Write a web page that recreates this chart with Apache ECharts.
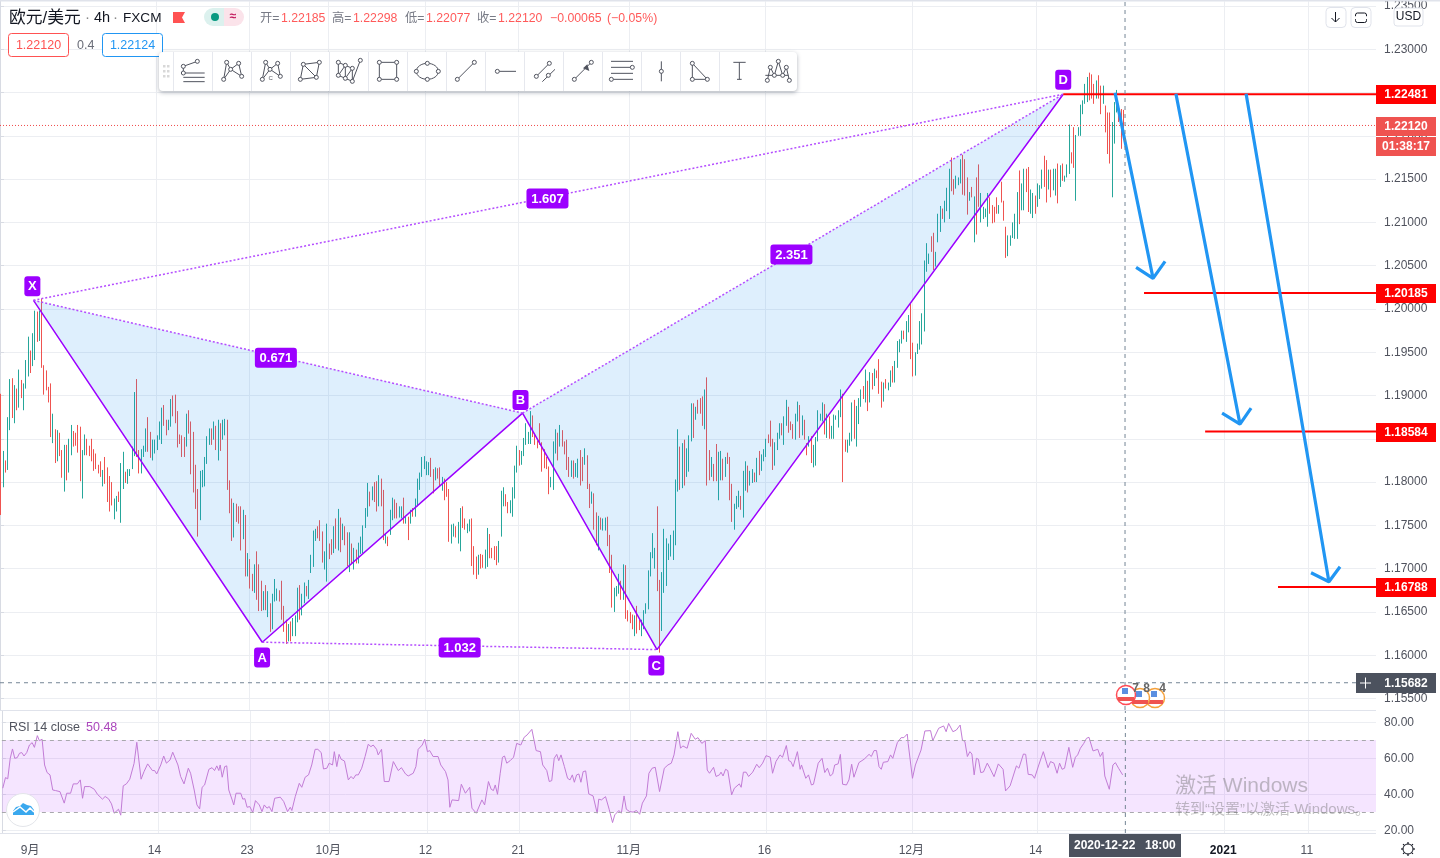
<!DOCTYPE html>
<html><head><meta charset="utf-8"><style>html,body{margin:0;padding:0;background:#fff;overflow:hidden}#c{width:1440px;height:858px}</style>
<script src="https://cdn.jsdelivr.net/npm/echarts@6/dist/echarts.min.js"></script></head><body><div id="c"></div>
<script>
// bar highs / lows in 1e-4 price units
const highs=[11902,11836,11825,11875,11919,11920,11912,11908,11930,11918,11914,11941,11968,11952,11972,11998,11997,11998,12012,11935,
11929,11910,11914,11879,11861,11860,11857,11837,11843,11843,11850,11866,11859,11857,11866,11864,11837,11855,11850,11842,
11850,11838,11833,11820,11824,11814,11829,11817,11807,11800,11781,11784,11789,11822,11835,11812,11815,11815,11841,11904,
11919,11837,11838,11842,11862,11875,11858,11849,11849,11854,11870,11886,11889,11872,11872,11896,11900,11901,11882,11855,
11854,11852,11879,11883,11870,11858,11820,11792,11813,11814,11829,11853,11862,11862,11870,11865,11872,11868,11872,11873,
11872,11802,11781,11776,11775,11772,11772,11768,11762,11718,11711,11694,11705,11720,11705,11686,11674,11681,11674,11660,
11671,11688,11677,11675,11686,11657,11641,11636,11639,11643,11646,11678,11681,11671,11684,11680,11687,11716,11744,11746,
11749,11756,11743,11720,11752,11729,11734,11749,11758,11769,11759,11752,11749,11742,11742,11729,11724,11722,11730,11737,
11750,11770,11799,11789,11795,11800,11801,11808,11804,11791,11741,11737,11768,11782,11780,11776,11772,11772,11782,11760,
11760,11768,11770,11781,11804,11811,11829,11830,11824,11823,11828,11815,11817,11816,11817,11806,11804,11800,11792,11751,
11752,11749,11754,11770,11772,11758,11752,11757,11758,11726,11714,11716,11717,11716,11722,11747,11740,11724,11726,11726,
11732,11790,11794,11786,11777,11779,11794,11819,11842,11837,11836,11851,11868,11858,11882,11877,11856,11848,11868,11846,
11838,11829,11818,11806,11847,11861,11857,11866,11860,11847,11849,11829,11825,11825,11822,11827,11837,11829,11839,11831,
11798,11789,11787,11765,11761,11759,11758,11759,11760,11739,11716,11678,11680,11694,11686,11705,11704,11652,11650,11647,
11646,11657,11641,11641,11652,11660,11698,11719,11741,11724,11772,11687,11696,11746,11735,11729,11739,11744,11803,11861,
11841,11845,11849,11839,11854,11891,11891,11887,11895,11897,11899,11907,11921,11837,11829,11821,11844,11835,11836,11827,
11829,11834,11829,11798,11775,11784,11790,11784,11813,11824,11819,11813,11815,11811,11828,11836,11832,11838,11850,11855,
11871,11850,11846,11857,11868,11868,11876,11895,11887,11870,11867,11879,11893,11889,11877,11872,11845,11853,11853,11843,
11852,11883,11879,11892,11890,11879,11876,11865,11878,11877,11883,11907,11902,11849,11849,11857,11892,11895,11888,11897,
11907,11911,11930,11917,11927,11926,11931,11929,11942,11916,11915,11919,11915,11929,11934,11940,11963,11965,11975,11975,
11986,11993,12006,11961,11950,11960,11986,11995,12056,12076,12064,12084,12088,12066,12110,12119,12116,12125,12140,12162,
12175,12150,12154,12152,12173,12178,12173,12152,12135,12141,12130,12152,12167,12134,12118,12116,12134,12129,12120,12118,
12129,12120,12147,12125,12095,12085,12085,12100,12110,12135,12160,12145,12162,12162,12164,12138,12134,12131,12145,12143,
12161,12177,12172,12161,12161,12162,12162,12168,12166,12168,12154,12167,12213,12181,12210,12201,12210,12236,12241,12260,
12268,12273,12271,12260,12264,12270,12258,12258,12235,12227,12227,12216,12239,12253,12236,12231,12230];
const lows=[11762,11794,11811,11814,11860,11874,11868,11883,11886,11897,11883,11908,11922,11926,11934,11941,11962,11963,11932,11901,
11906,11892,11852,11845,11822,11824,11830,11805,11789,11802,11811,11831,11841,11842,11834,11801,11781,11831,11831,11830,
11824,11813,11815,11810,11806,11795,11798,11777,11766,11773,11757,11766,11777,11753,11792,11799,11798,11807,11815,11830,
11829,11810,11810,11829,11835,11835,11828,11825,11833,11837,11849,11844,11865,11854,11860,11864,11876,11868,11840,11844,
11829,11829,11841,11856,11809,11788,11769,11737,11756,11794,11795,11821,11843,11843,11849,11837,11825,11836,11849,11854,
11791,11764,11732,11736,11754,11752,11721,11734,11691,11691,11677,11674,11672,11664,11651,11651,11652,11652,11644,11627,
11630,11662,11663,11662,11641,11627,11613,11616,11616,11622,11622,11638,11641,11646,11660,11668,11665,11695,11702,11732,
11735,11732,11707,11699,11685,11711,11716,11718,11723,11721,11719,11733,11727,11703,11696,11706,11699,11706,11706,11717,
11718,11747,11760,11772,11779,11777,11766,11772,11772,11733,11729,11726,11739,11756,11758,11758,11759,11758,11752,11752,
11733,11752,11760,11760,11772,11791,11806,11815,11808,11808,11806,11787,11802,11804,11795,11790,11779,11783,11731,11729,
11737,11736,11729,11720,11747,11745,11741,11743,11703,11693,11688,11693,11700,11701,11700,11702,11712,11712,11710,11704,
11707,11737,11772,11772,11764,11764,11760,11781,11811,11819,11820,11830,11843,11844,11844,11852,11843,11839,11843,11812,
11816,11815,11786,11794,11791,11833,11825,11841,11841,11832,11814,11806,11806,11804,11806,11805,11796,11801,11820,11792,
11770,11775,11745,11727,11721,11745,11744,11744,11726,11695,11655,11650,11668,11671,11664,11664,11642,11639,11637,11630,
11622,11625,11629,11622,11630,11648,11653,11691,11712,11700,11674,11603,11628,11672,11680,11710,11714,11710,11727,11789,
11791,11793,11796,11806,11812,11847,11851,11872,11879,11879,11865,11861,11796,11802,11806,11801,11801,11779,11802,11802,
11806,11821,11779,11754,11745,11769,11771,11768,11759,11790,11788,11796,11799,11800,11800,11808,11813,11824,11829,11845,
11841,11814,11819,11837,11850,11854,11843,11865,11857,11860,11850,11849,11870,11851,11854,11849,11831,11841,11822,11817,
11819,11847,11871,11870,11855,11851,11850,11850,11850,11872,11863,11875,11800,11835,11834,11842,11847,11850,11841,11867,
11887,11896,11892,11882,11892,11907,11911,11920,11902,11886,11893,11908,11906,11910,11915,11915,11932,11950,11960,11965,
11962,11973,11942,11922,11923,11948,11953,11959,11974,12043,12052,12066,12045,12049,12077,12089,12104,12100,12113,12104,
12136,12132,12139,12143,12145,12132,12131,12109,12125,12129,12077,12086,12118,12100,12104,12106,12095,12110,12099,12100,
12110,12110,12123,12102,12059,12061,12073,12082,12081,12081,12098,12114,12114,12135,12112,12110,12105,12110,12118,12127,
12139,12141,12123,12138,12129,12137,12131,12122,12141,12148,12147,12152,12156,12168,12163,12125,12200,12200,12225,12237,
12239,12241,12243,12237,12243,12243,12225,12237,12204,12179,12168,12129,12191,12227,12216,12185,12208];
// per-bar direction (u = closes up, d = closes down)
const barDirList=[
"d u d u u d u d u d u u u d u u d u d d",
"d d d u d u d d u d u u d d d d u u d d",
"d d d d d u d d d d u u d u u d u u u u",
"d d u u u d d u u u u u d d u u d d d d",
"d d u d d d d d u u u u u d u d u d u u",
"d d d u d d d u d u d d u d d d u d u d",
"u u u d d d d u d u u u d u u d u u u u",
"d d d u u d d u d u d u d d u d u d u u",
"u u u d u d d u d d u d u u d d u u d u",
"d u d u u u u u u u d d u d d u d d d u",
"u d u u d d u u d d d u d d u u d d d d",
"u u u d d u u u u d u u u u u d d d d d",
"d d d u u u d u d d d d u d u u d d u d",
"d u d d u d u u d d d u u u d u d d d d",
"u d d u u u u u u u d d u u u u u u u u",
"d u d u u u d u d d d u d d u d d u u d",
"u d d d u u u d u u d u u d u d u u u d",
"d d u u u d u u d d d u u d u d d u d u",
"u u u u d u d u u u u u d d u u u d u u",
"u d u d u d u d d d u d u u d u u u u d",
"u u d d u u u u u u u d d u u u d u u u",
"d d u u u d d d u d u d d u u u u d d d",
"d u d d d u u u u u d u u d d u u d u u",
"u d d u d u u d u d u u u d d u u u u u",
"u d d d u d d u d d d u u u d d d"].join(' ').split(' ');
const CAT_COUNT=608;
const tickBars=[14,69,110,145,188,229,278,338,403,458,541,578];
const tickLabels=['9月','14','23','10月','12','21','11月','16','12月','14','2021','11'];
const priceTicks=[1.155,1.16,1.165,1.17,1.175,1.18,1.185,1.19,1.195,1.2,1.205,1.21,1.215,1.22,1.225,1.23,1.235];
const rsiTicks=[20,40,60,80];
// harmonic pattern points: [bar position, price]
const ptX=[14.8,1.2010],ptA=[115.9,1.1615],ptB=[230.9,1.18797],ptC=[290.3,1.16065],ptD=[469.8,1.22481];
const patternLabels=[['X',14.3,1.20261],['A',115.8,1.15973],['B',230.0,1.18947],['C',290.0,1.1588],['D',469.8,1.22648]];
const ratioLabels=[['0.671',121.9,1.19435],['1.032',203.1,1.16088],['1.607',241.9,1.21276],['2.351',349.7,1.2063]];
const targetLines=[[469.8,1.22481],[505.5,1.20185],[532.5,1.18584],[564.7,1.16788]];
const arrows=[
 [[492.7,1.22498],[509.5,1.20354],[502.0,1.20481],[509.5,1.20354],[514.8,1.2055]],
 [[519.6,1.22487],[547.9,1.1867],[540.0,1.18797],[547.9,1.1867],[552.8,1.18855]],
 [[550.6,1.22487],[587.2,1.16849],[579.3,1.16953],[587.2,1.16849],[592.1,1.17022]]];
const lastPrice=1.2212,crossPrice=1.15682,crossBar=497.1;
const rsiPoints=[[0.4,43.2],[1.6,49.1],[2.6,48.4],[3.7,59.8],[4.7,65],[5.7,59.8],[6.8,60.2],[7.8,62.6],[8.8,63],[9.8,61.1],[11,63],[12.2,67.2],[13.4,68.5],[14.4,65.9],[15.7,72.4],[16.6,69.6],[17.8,70.4],[18.9,56.1],[20,51.9],[21.3,50.6],[22.5,42.2],[23.7,41.9],[25.7,41.3],[27.6,34.9],[28.7,40.4],[30.4,40.4],[31.6,45.6],[33.4,45.6],[34.7,47.8],[35.7,37.6],[36.6,44.1],[38.9,44.1],[40.9,42.6],[42.3,39.8],[44.5,37.1],[45.7,38.6],[47.2,37.3],[48.5,34.5],[49.7,29.3],[51.6,31.5],[52.6,28.2],[53.7,44.5],[55.1,45.6],[56.6,48.2],[58.5,57],[59.7,68.7],[61.6,48.2],[62.9,52.4],[64.5,56.7],[66.6,53],[67.6,53],[68.5,51.1],[70.3,56.1],[71.6,61.1],[72.8,57.1],[74.4,58.9],[75.6,63.2],[77.9,56.1],[79.1,49.7],[80.6,45.6],[82.5,54.3],[83.5,51.5],[85.1,42.2],[86.3,33.9],[87.5,31.7],[88.6,43.7],[89.7,45],[91.6,53.7],[93,54.6],[94.1,53],[95.1,55.6],[96,53],[96.6,56.1],[97.5,49.3],[98.6,55.2],[99.5,55.6],[100.4,42.2],[101.9,36.7],[102.6,33.9],[103.6,40.4],[105.7,40.4],[106.6,37.1],[107.5,37.4],[108.5,32.6],[109.7,33],[111,29.7],[112.2,36.3],[113.9,33.9],[115.1,30.2],[116.1,33.9],[117.3,32.1],[118.3,33],[119.5,30.2],[120.7,37.6],[123.2,38.2],[124.7,35.8],[126.4,30.2],[127.6,32.6],[128.3,30.8],[129.8,38.5],[130.5,39.5],[131.6,45.9],[132.7,43.7],[134.2,49.3],[135.7,50.6],[137.1,56.1],[138.6,64.8],[139.8,64.8],[141.3,63],[142.3,53.9],[143.8,54.3],[144.8,57.1],[146.3,56.1],[147.1,63.5],[148.2,55.2],[149.2,62],[150.1,59.3],[151.6,58.3],[153.3,47.8],[154.5,49.7],[155.5,48.4],[156.6,50.6],[157.7,50.6],[159.2,54.3],[160.7,60.8],[162.1,67.6],[163.3,66.3],[164.3,67.2],[165.8,64.8],[166.5,61.7],[168,64.8],[169.2,46.9],[171.3,46.9],[173.2,58],[175.4,53],[176.8,54.6],[178.6,51.1],[179.8,50],[182,51.5],[183.2,55.2],[184.2,64.8],[186,67.2],[187.1,70.4],[188.3,63.5],[189.3,64.1],[190.8,60.8],[193,60.8],[194.2,56.1],[196.3,52.4],[197.4,47.8],[198.2,32.6],[199.2,36.7],[202.1,36.3],[203.3,45.4],[205.1,40.4],[207,43.7],[208,32.1],[209.9,29.3],
[212.4,36.7],[213.6,33.9],[214.3,34.9],[215.3,46.9],[216.5,42.6],[217.5,41.9],[218.3,45],[219.3,39.8],[220.5,51.5],[221.5,60.4],[222.4,61.1],[223.4,57.1],[224.9,58.5],[226.4,60.4],[227.8,68.1],[228.6,69.1],[229.6,67.2],[231.1,71.5],[232.4,72.8],[234.5,75.9],[236.4,64.1],[238.3,63.5],[239.3,56.1],[241.1,53],[242.2,46.9],[243.3,47.4],[244.4,59.8],[245.5,62],[246.4,58.5],[247.4,61.7],[248.9,55.2],[250.3,48.7],[251.4,47.8],[252.4,50.6],[253.3,46.5],[254.3,50.6],[255.3,51.1],[256.2,46.5],[257.2,52.4],[258.3,52.8],[259.7,40],[261.6,38.9],[263.4,29.3],[264.1,37.1],[265.3,36.7],[267.1,38.5],[268.7,31.5],[270.2,24.1],[271.2,28.4],[273,30.8],[274.1,29.3],[275.3,38.9],[276.3,31.5],[277.8,30.2],[279.3,29.9],[280.8,30.8],[282.2,28.7],[283.4,34.9],[285.2,38.9],[286.3,51.5],[287.7,54.3],[289.1,54.8],[291,41.3],[293.1,54.3],[294.7,56.1],[296.2,57.1],[297.4,61.7],[299.1,74.6],[300.3,65.4],[301.3,66.7],[303.2,65.4],[305,73.7],[306.8,70.4],[308,71.3],[309.7,68.1],[311.2,69.6],[312.1,53.3],[313.1,51.5],[314.9,54.8],[316,49.7],[317.5,50.6],[318.2,52.1],[319.1,50],[320.2,53.7],[321.2,53],[322.9,39.5],[324.1,43.2],[326.3,45.6],[327.1,43.7],[328.1,52.1],[329.3,52.1],[330.4,49.7],[332.2,52.1],[332.9,51.9],[334,56.5],[335.1,54.6],[336.6,57.1],[338.1,61.3],[340,60.4],[341,51.5],[342.5,58],[344.3,61.7],[345.4,60.4],[347.1,66.9],[348.2,58.5],[349.1,58],[350.1,55.2],[352,63.5],[353.2,53.7],[353.8,56.1],[355.7,48.7],[356.9,50.6],[358.2,45],[359.1,45.4],[361.2,57.1],[362.9,59.8],[364.1,51.9],[365.3,54.3],[366.5,50],[367.6,51.1],[368.5,56.1],[370,56.7],[371,62],[372,45.4],[373.7,45],[374.8,47.8],[376,56.5],[377,49.3],[379.2,57.4],[381.5,59.3],[383.7,62],[384.7,60.8],[385.9,64.1],[387,64.1],[388.1,55.2],[389.1,53.7],[390,57.6],[392,58],[393.2,61.7],[394.2,59.8],[396.2,68.5],[397.9,71.3],[399.1,71.3],[400.6,73.3],[401,68.1],[402.9,48.7],[404.2,56.1],[406.7,64.4],[408.4,75],[410.9,75.2],[411.9,69.6],[414.5,76.5],[416.7,77.8],[417.8,74.6],[418.9,79.2],[420.8,74.6],[422.3,75.5],[424,78.3],
[425,70],[426.1,69.1],[427.2,60.8],[428.3,63.5],[429.2,62.2],[430.2,50.6],[431.2,59.8],[432.1,59.3],[433.1,51.9],[434.3,52.2],[436,57.1],[437.2,54.3],[438,53.7],[439,49.6],[440.9,56.7],[443,53.7],[444.1,41.7],[446.1,44.5],[448.9,55.6],[450,54.3],[452,62.2],[453,62],[454.1,50.9],[455.9,50.6],[456.9,48.7],[458.8,56.1],[460.8,63.5],[462.9,54.6],[464,58],[465.5,57.1],[465.9,57.4],[466.9,51.5],[468,57.1],[469.1,53.7],[470.2,54.3],[472.1,65.9],[473.8,54.8],[475,60.4],[476,61.7],[477.2,65.4],[478.7,68.1],[479.9,70.9],[481,71.5],[482.8,63.9],[484.9,64.8],[486,60.8],[487.1,63.2],[488,50],[490,42.6],[491.6,56.1],[492.7,57.4],[494.1,54.3],[495.9,50.6]];

const FONT='"Liberation Sans","Noto Sans CJK SC",sans-serif';
const categories=Array.from({length:CAT_COUNT},()=>'');
tickBars.forEach((b,i)=>{categories[b]=tickLabels[i]});
const candles=highs.map((h,i)=>{const H=h/10000,L=lows[i]/10000;return barDirList[i]==='u'?[L,H,L,H]:[H,L,L,H]});
const Y0MIN=1.15367,Y0MAX=1.23553,Y1MIN=18.3,Y1MAX=86.1,GRID='#eceef2',UP='#26a69a',DOWN='#ef5350',PUR='#9c00ff';
const lineS=(data,color,width,type,g,z,extra)=>Object.assign({type:'line',data,xAxisIndex:g?3:2,yAxisIndex:g?1:0,showSymbol:false,symbol:'none',silent:true,z,animation:false,
 lineStyle:{color,width,type}},extra||{});
const polys=[[ptX,ptA,ptB],[ptB,ptC,ptD]];
const textBox=(api,lab,w,h,font)=>{const p=api.coord([lab[1],lab[2]]);return {type:'group',children:[
 {type:'rect',shape:{x:p[0]-w/2,y:p[1]-h/2,width:w,height:h,r:3},style:{fill:PUR}},
 {type:'text',style:{x:p[0],y:p[1]+.5,text:lab[0],fill:'#fff',font,align:'center',verticalAlign:'middle'}}]}};
const customBase={type:'custom',xAxisIndex:2,yAxisIndex:0,silent:true,animation:false,encode:{x:0,y:1}};
const tag=(api,price,color,text,dy,h)=>{const p=api.coord([0,price]);const top=Math.round(p[1]+.2)-Math.floor(h/2)+(dy||0);return {type:'group',children:[
 {type:'rect',shape:{x:1376,y:top,width:60,height:h},style:{fill:color}},
 {type:'text',style:{x:1406,y:top+h/2+.5,text,fill:'#fff',font:'bold 12px '+FONT,align:'center',verticalAlign:'middle'}}]}};
const series=[
 {type:'candlestick',data:candles,xAxisIndex:0,yAxisIndex:0,barWidth:0.01,silent:true,animation:false,z:2,
  itemStyle:{color:UP,color0:DOWN,borderColor:UP,borderColor0:DOWN,borderWidth:1}},
 Object.assign({},customBase,{z:3,data:polys.map((_,i)=>[i,0]),renderItem:(p,api)=>({type:'polygon',shape:{points:polys[p.dataIndex].map(q=>api.coord(q))},style:{fill:'rgba(33,150,243,0.15)'}})}),
 lineS([ptX,ptA,ptB,ptC,ptD],PUR,1.5,'solid',0,4),
 lineS([ptX,ptB],'#b44dff',1.5,[2,2],0,4),lineS([ptA,ptC],'#b44dff',1.5,[2,2],0,4),
 lineS([ptB,ptD],'#b44dff',1.5,[2,2],0,4),lineS([ptX,ptD],'#b44dff',1.5,[2,2],0,4),
 lineS([[0,lastPrice],[CAT_COUNT,lastPrice]],'#f04a4a',1,[1,2],0,3),
 ...targetLines.map(t=>lineS([t,[CAT_COUNT,t[1]]],'#ff0000',2,'solid',0,5)),
 ...arrows.map(a=>lineS(a,'#2196f3',3.2,'solid',0,6)),
 lineS([[crossBar,Y0MIN],[crossBar,Y0MAX]],'#758696',1,[4,4],0,7),
 lineS([[0,crossPrice],[CAT_COUNT,crossPrice]],'#758696',1,[4,4],0,7),
 lineS([[crossBar,Y1MIN],[crossBar,Y1MAX]],'#758696',1,[4,4],1,7),
 Object.assign(lineS(rsiPoints,'#c27cd6',1,'solid',1,4),{
  markArea:{silent:true,itemStyle:{color:'rgba(155,0,255,0.1)'},data:[[{yAxis:70},{yAxis:30}]]},
  markLine:{silent:true,symbol:'none',label:{show:false},lineStyle:{color:'#a8a8ac',type:[4,4],width:1},data:[{yAxis:70},{yAxis:30}]}}),
 {type:'custom',xAxisIndex:3,yAxisIndex:1,silent:true,animation:false,z:8,encode:{x:0,y:1},data:rsiTicks.map(v=>[CAT_COUNT,v]),
  renderItem:(p,api)=>{const v=rsiTicks[p.dataIndex],q=api.coord([CAT_COUNT,v]);return {type:'text',style:{x:q[0]+8,y:q[1]+.5,text:v.toFixed(2),fill:'#50535e',font:'12px '+FONT,align:'left',verticalAlign:'middle'}}}},
 Object.assign({},customBase,{z:8,data:patternLabels.map((l,i)=>[i,0]),renderItem:(p,api)=>textBox(api,patternLabels[p.dataIndex],16,20,'bold 13px '+FONT)}),
 Object.assign({},customBase,{z:8,data:ratioLabels.map((l,i)=>[i,0]),renderItem:(p,api)=>textBox(api,ratioLabels[p.dataIndex],42,20,'bold 13px '+FONT)}),
 Object.assign({},customBase,{z:9,data:targetLines.map((t,i)=>[i,0]),renderItem:(p,api)=>{const v=targetLines[p.dataIndex][1];return tag(api,v,'#ff0000',v.toFixed(5),0,19)}}),
 Object.assign({},customBase,{z:9,data:[[0,0]],renderItem:(p,api)=>tag(api,lastPrice,'#ef5350',lastPrice.toFixed(5),0,19)}),
 Object.assign({},customBase,{z:9,data:[[0,0]],renderItem:(p,api)=>tag(api,lastPrice,'#ef5350','01:38:17',20,19)}),
 Object.assign({},customBase,{z:9,data:[[0,0]],renderItem:(p,api)=>tag(api,crossPrice,'#4c525e',crossPrice.toFixed(5),0,20)})
];
// ---- page furniture (header, toolbar, icons)
const G=[];const Z=100;
const txt=(x,y,text,fill,size,extra)=>G.push({type:'text',z:Z,silent:true,style:Object.assign({x,y,text,fill,font:size+'px '+FONT,verticalAlign:'middle'},extra||{})});
const rct=(x,y,w,h,style,r)=>G.push({type:'rect',z:Z,silent:true,shape:{x,y,width:w,height:h,r:r||0},style});
const ln=(a,b,c,d,stroke,lw,z)=>G.push({type:'line',z:z||Z,silent:true,shape:{x1:a,y1:b,x2:c,y2:d},style:{stroke,lineWidth:lw||1}});
const cir=(x,y,r,style,z)=>G.push({type:'circle',z:z||Z,silent:true,shape:{cx:x,cy:y,r},style});
const GR='#787b86',RD='#ff5a5a',INK='#50535e';
rct(0,0,1440,1.5,{fill:'#e0e3eb'});
ln(0,710.5,1376,710.5,'#e0e3eb',1,1);ln(0,833.5,1376,833.5,'#e0e3eb',1,1);
txt(9,18,'欧元/美元','#131722',16.8);txt(85,18,'·','#888',15);txt(94,18,'4h','#131722',14.5);txt(113,18,'·','#888',15);txt(123,18,'FXCM','#131722',13.6);
G.push({type:'polygon',z:Z,silent:true,shape:{points:[[173,12],[185,12],[182,17.5],[185,23],[173,23]]},style:{fill:'#ff5252'}});
rct(204,8,20,18,{fill:'#dcf1ee'},[9,0,0,9]);rct(224,8,20,18,{fill:'#fbe3ea'},[0,9,9,0]);
cir(215,17,4,{fill:'#089981'});txt(233,17,'≈','#c2185b',14,{align:'center',fontWeight:'bold'});
[[260,'开=',GR],[281,'1.22185',RD],[332,'高=',GR],[353,'1.22298',RD],[405,'低=',GR],[426,'1.22077',RD],[477,'收=',GR],[498,'1.22120',RD],[550,'−0.00065',RD],[607,'(−0.05%)',RD]].forEach(t=>txt(t[0],18.5,t[1],t[2],12.3));
rct(8.5,33.5,60,23,{fill:'#fff',stroke:'#ff5252',lineWidth:1},3);txt(38.5,45.5,'1.22120','#ff5252',12.5,{align:'center'});
txt(77,45.5,'0.4','#6a6d78',12.5);
rct(102.5,33.5,60,23,{fill:'#fff',stroke:'#2196f3',lineWidth:1},3);txt(132.5,45.5,'1.22124','#2196f3',12.5,{align:'center'});
// toolbar
rct(159,52,638,39,{fill:'#fff',shadowBlur:4,shadowColor:'rgba(30,40,60,0.35)',shadowOffsetY:1.5},4);
for(let i=0;i<15;i++)ln(173.5+39*i,52,173.5+39*i,91,'#e6e8ee',1);
[164,168].forEach(x=>[66,71,76].forEach(y=>rct(x-1,y-1,2.5,2.5,{fill:'#d8d8d8'})));
const toolLines=[[550,199,592,184],[550,199,550,219],[550,219,614,219],[550,232,614,232],[550,245,614,245],
[671,238,680,187,692,208,716,190,725,229,692,208,671,238],[787,238,797,187,810,208,833,190,841,229,810,208,787,238],
[910,193,958,187,949,232,901,238,910,193,949,232],
[1015,187,1015,226,1036,196,1036,235,1057,205,1057,244,1081,181],[1015,187,1057,205],[1015,226,1057,244],
[1138,187,1190,187,1190,238,1138,238,1138,187],[1372,238,1423,187],[1492,214,1548,214],[1609,229,1648,190],[1627,245,1665,208],
[1723,238,1774,187],[1833,184,1899,184],[1833,202,1897,202],[1833,220,1899,220],[1834,238,1899,238],[1984,184,1984,244],
[2077,190,2077,238,2122,238,2077,190],[2200,187,2237,187],[2218,187,2218,238],[2211,238,2225,238],
[2302,241,2311,202,2323,226,2335,184,2348,226,2359,202,2368,241],[2296,226,2365,226]];
const toolDots=[550,199,592,184,550,219,680,187,716,190,692,208,671,238,725,229,797,187,833,190,810,208,787,238,841,229,910,193,958,187,901,238,949,232,
1015,187,1036,196,1057,205,1081,181,1015,226,1036,235,1057,244,1138,187,1190,187,1138,238,1190,238,1282,190,1249,214,1315,214,1282,238,1372,238,1423,187,1492,214,
1609,229,1648,190,1645,226,1723,238,1774,187,1897,202,1834,238,1984,214,2077,190,2077,238,2122,238,2302,241,2311,202,2323,226,2335,184,2348,226,2359,202,2368,241];
toolLines.forEach(l=>{const pts=[];for(let i=0;i<l.length;i+=2)pts.push([l[i]/3,l[i+1]/3]);
 G.push({type:'polyline',z:Z,silent:true,shape:{points:pts},style:{stroke:INK,lineWidth:1,fill:'none'}})});
G.push({type:'ellipse',z:Z,silent:true,shape:{cx:1282/3,cy:214/3,rx:11,ry:8},style:{stroke:INK,lineWidth:1,fill:'none'}});
G.push({type:'polygon',z:Z,silent:true,shape:{points:[[1762/3,193/3],[1768/3,213/3],[1749/3,205/3]]},style:{fill:INK}});
for(let i=0;i<toolDots.length;i+=2)cir(toolDots[i]/3,toolDots[i+1]/3,2,{fill:'#fff',stroke:INK,lineWidth:1});
txt(812/3,234/3+.5,'C',INK,6,{align:'center'});
// top-right buttons
rct(1326,7.5,20,20,{fill:'#fff',stroke:'#e0e3eb',lineWidth:1},4);rct(1351,7.5,20,20,{fill:'#fff',stroke:'#e0e3eb',lineWidth:1},4);
ln(1335.5,12,1335.5,22,'#131722');ln(1335.5,22,1331.5,18,'#131722');ln(1335.5,22,1339.5,18,'#131722');
rct(1355.5,13,11,9.5,{fill:'none',stroke:'#131722',lineWidth:1},2);ln(1354,17.7,1368,17.7,'#fff',3);
rct(1394,8,29,18,{fill:'#fff',stroke:'#e0e3eb',lineWidth:1},3);txt(1408.5,17,'USD','#131722',12,{align:'center'});
// crosshair furniture
rct(1356,673,20,20,{fill:'#4c525e'});ln(1360,683,1371,683,'#fff');ln(1365.5,677.5,1365.5,688.5,'#fff');
rct(1069,834,112,23,{fill:'#4c525e'});txt(1074,845.5,'2020-12-22','#fff',12,{fontWeight:'bold'});txt(1145,845.5,'18:00','#fff',12,{fontWeight:'bold'});
// RSI legend
txt(9,727.5,'RSI 14 close','#50535e',12.5);txt(86,727.5,'50.48','#ab47bc',12.5);
// logo
cir(23,810,16.5,{fill:'#fff',stroke:'#e3e5ea',lineWidth:1},90);
G.push({type:'polygon',z:Z,silent:true,shape:{points:[[13,815],[13,811],[16,807],[20,806],[23,803],[27,805],[31,806],[34,810],[34,815]]},style:{fill:'#3aa8ee'}});
G.push({type:'polyline',z:Z,silent:true,shape:{points:[[13,812],[20,807],[26,812],[30,808],[34,812]]},style:{stroke:'#fff',lineWidth:1.5,fill:'none'}});
// event flags
[[1155,698,'#f5a13c'],[1140,698,'#f5a13c'],[1126,695,'#ff4b55']].forEach(e=>{cir(e[0],e[1],9.5,{fill:'#fff',stroke:e[2],lineWidth:1.5});
 rct(e[0]-8,e[1]+2,16,4,{fill:'#ef5350'});rct(e[0]-4,e[1]-7,6,6,{fill:'#5b8fe0'})});
[[1135.5,'7'],[1146.5,'8'],[1162.5,'4']].forEach(n=>txt(n[0],688.5,n[1],'#666',10.5,{align:'center',fontWeight:'bold'}));
// gear
for(let a=0;a<8;a++){const c=Math.cos(a*Math.PI/4),s=Math.sin(a*Math.PI/4);ln(1408+c*4,849+s*4,1408+c*7,849+s*7,'#131722',1.2)}
cir(1408,849,5,{fill:'#fff',stroke:'#131722',lineWidth:1});
// windows watermark
txt(1175,786,'激活 Windows','rgba(110,110,110,0.42)',21);
txt(1175,810,'转到“设置”以激活 Windows。','rgba(110,110,110,0.42)',15);

const chart=echarts.init(document.getElementById('c'),null,{renderer:'canvas'});
const vSplit={show:true,showMinLine:false,showMaxLine:false,interval:(i,v)=>v!=='',lineStyle:{color:GRID,width:1}};
const earlyTicks=tickBars.slice(0,3);
chart.setOption({animation:false,backgroundColor:'#fff',textStyle:{fontFamily:FONT},
 grid:[{left:-1,top:0,width:1377,height:710},{left:-1,top:711,width:1377,height:122}],
 xAxis:[
  {type:'category',gridIndex:0,data:categories,boundaryGap:true,axisLine:{show:false},axisTick:{show:false},axisLabel:{show:false},splitLine:vSplit},
  {type:'category',gridIndex:1,data:categories,boundaryGap:true,axisLine:{show:false},axisTick:{show:false},
   axisLabel:{interval:0,fontSize:12,color:'#50535e',margin:12,padding:[0,5,0,0],fontFamily:FONT,hideOverlap:false,
    formatter:(v,i)=>v===''?'':v==='2021'?'{b|2021}':earlyTicks.includes(i)?'{e|'+v+'}':v,
    rich:{b:{fontWeight:'bold',color:'#131722',fontSize:12,fontFamily:FONT},e:{color:'#50535e',fontSize:12,fontFamily:FONT,padding:[0,4,0,0]}}},splitLine:vSplit},
  {type:'value',gridIndex:0,min:0,max:CAT_COUNT,show:false},
  {type:'value',gridIndex:1,min:0,max:CAT_COUNT,show:false}],
 yAxis:[
  {type:'value',gridIndex:0,position:'right',min:Y0MIN,max:Y0MAX,scale:true,
   axisLine:{show:true,lineStyle:{color:'#d8dbe3'}},axisTick:{show:true,length:4,customValues:priceTicks,lineStyle:{color:'#d8dbe3'}},
   splitLine:{show:true,lineStyle:{color:GRID}},
   axisLabel:{customValues:priceTicks,formatter:v=>v.toFixed(5),color:'#50535e',fontSize:12,margin:8,fontFamily:FONT,showMinLabel:true,showMaxLabel:true}},
  {type:'value',gridIndex:1,position:'right',min:Y1MIN,max:Y1MAX,
   axisLine:{show:true,lineStyle:{color:'#d8dbe3'}},axisTick:{show:true,length:4,customValues:rsiTicks,lineStyle:{color:'#d8dbe3'}},
   splitLine:{show:true,lineStyle:{color:GRID}},
   axisLabel:{show:false,customValues:rsiTicks}}],
 series,
 graphic:{elements:G}
});
</script></body></html>
